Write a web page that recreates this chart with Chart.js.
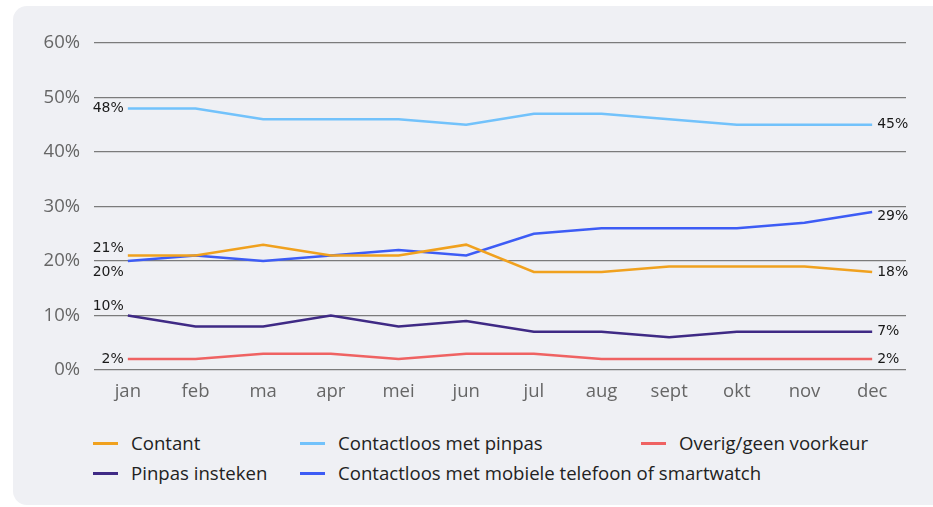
<!DOCTYPE html>
<html>
<head>
<meta charset="utf-8">
<script src="https://cdn.jsdelivr.net/npm/chart.js@4.4.1/dist/chart.umd.min.js"></script>
<style>
  body { margin: 0; background: #fff; width: 933px; height: 507px; overflow: hidden; position: relative; }
  .panel { position: absolute; left: 13px; top: 6px; width: 940px; height: 499px; background: #eff0f4; border-radius: 14px; }
  #chartBox { position: absolute; left: 0; top: 0; width: 933px; height: 405px; }
  .legend { position: absolute; left: 0; top: 0; font-family: "Open Sans", sans-serif; font-size: 18.6px; color: #222; }
  .legend .item { position: absolute; white-space: nowrap; line-height: 20px; }
  .legend .swatch { position: absolute; left: 0; top: 9px; width: 25px; height: 3px; }
  .legend .txt { position: absolute; top: 0; }
</style>
</head>
<body>
<div class="panel"></div>
<div id="chartBox"><canvas id="chart"></canvas></div>
<div class="legend" id="legend"></div>

<script>
  // data
  const months = ['jan', 'feb', 'ma', 'apr', 'mei', 'jun', 'jul', 'aug', 'sept', 'okt', 'nov', 'dec'];
  const yTicks = [0, 10, 20, 30, 40, 50, 60];

  const contant = [21, 21, 23, 21, 21, 23, 18, 18, 19, 19, 19, 18];
  const pinpas = [48, 48, 46, 46, 46, 45, 47, 47, 46, 45, 45, 45];
  const overig = [2, 2, 3, 3, 2, 3, 3, 2, 2, 2, 2, 2];
  const insteken = [10, 8, 8, 10, 8, 9, 7, 7, 6, 7, 7, 7];
  const mobiel = [20, 21, 20, 21, 22, 21, 25, 26, 26, 26, 27, 29];

  const seriesNames = ['Contant', 'Contactloos met pinpas', 'Overig/geen voorkeur', 'Pinpas insteken', 'Contactloos met mobiele telefoon of smartwatch'];
  const seriesData = [contant, pinpas, overig, insteken, mobiel];
  const seriesColors = ['#f0a11e', '#72c2fb', '#ef6262', '#3f2a85', '#3d5cf5'];

  // label offsets [dx, dy] for first and last point
  const firstOffsets = [[-4, -7], [-4, 0], [-4, 0], [-4, -9], [-4, 11]];
  const lastOffsets = [[5, 0], [5, 0], [5, 0], [5, 0], [5, 4]];

  // end labels plugin
  const endLabels = {
    id: 'endLabels',
    afterDatasetsDraw(chart) {
      const ctx = chart.ctx;
      ctx.save();
      ctx.font = '14px "DejaVu Sans", sans-serif';
      ctx.fillStyle = '#1a1a1a';
      ctx.textBaseline = 'middle';
      chart.data.datasets.forEach((ds, i) => {
        const pts = chart.getDatasetMeta(i).data;
        const first = pts[0], last = pts[pts.length - 1];
        ctx.textAlign = 'right';
        ctx.fillText(ds.data[0] + '%', first.x + firstOffsets[i][0], first.y + firstOffsets[i][1]);
        ctx.textAlign = 'left';
        ctx.fillText(ds.data[ds.data.length - 1] + '%', last.x + lastOffsets[i][0], last.y + lastOffsets[i][1]);
      });
      ctx.restore();
    }
  };

  const ctx = document.getElementById('chart').getContext('2d');
  new Chart(ctx, {
    type: 'line',
    data: {
      labels: months,
      datasets: seriesData.map((d, i) => ({
        label: seriesNames[i],
        data: d,
        borderColor: seriesColors[i],
        backgroundColor: seriesColors[i],
        borderWidth: 2.5,
        pointRadius: 0,
        tension: 0
      }))
    },
    options: {
      responsive: true,
      maintainAspectRatio: false,
      animation: false,
      layout: { padding: { top: 43, right: 27, left: 0, bottom: 0 } },
      plugins: {
        legend: { display: false },
        tooltip: { enabled: false }
      },
      scales: {
        x: {
          offset: true,
          grid: { display: false },
          border: { display: false },
          ticks: {
            color: '#666',
            font: { family: '"Open Sans", sans-serif', size: 18.5 },
            padding: 3,
            maxRotation: 0
          },
          afterFit(scale) { scale.height = 35; }
        },
        y: {
          min: 0,
          max: 60,
          afterBuildTicks(scale) { scale.ticks = yTicks.map(v => ({ value: v })); },
          grid: { color: '#7b7b7b', lineWidth: 1.2, drawTicks: false },
          border: { display: false },
          ticks: {
            color: '#666',
            font: { family: '"Open Sans", sans-serif', size: 18.5 },
            padding: 14,
            callback: v => v + '%'
          },
          afterFit(scale) { scale.width = 94; }
        }
      }
    },
    plugins: [endLabels]
  });

  // legend
  const legendPos = [[93, 433], [300, 433], [641, 433], [93, 463], [300, 463]];
  const legend = document.getElementById('legend');
  seriesNames.forEach((name, i) => {
    const item = document.createElement('div');
    item.className = 'item';
    item.style.left = legendPos[i][0] + 'px';
    item.style.top = legendPos[i][1] + 'px';
    item.innerHTML = '<span class="swatch" style="background:' + seriesColors[i] + '"></span>' +
      '<span class="txt" style="left:38px">' + name + '</span>';
    legend.appendChild(item);
  });
</script>
</body>
</html>
